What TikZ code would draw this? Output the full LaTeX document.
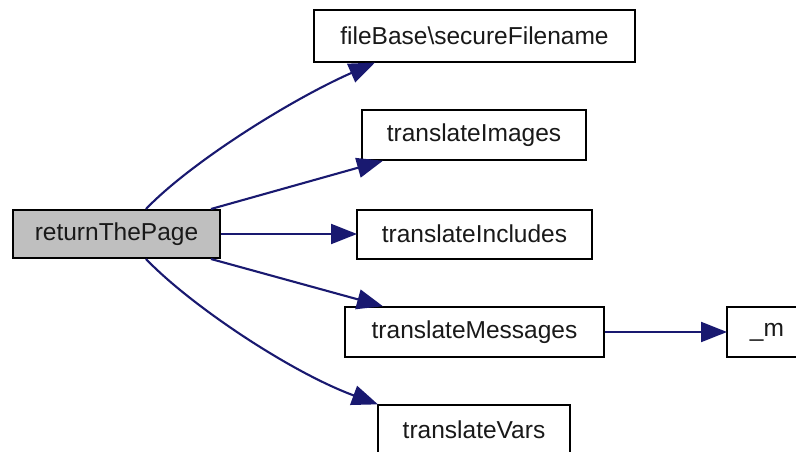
\documentclass[tikz,border=0pt]{standalone}
\usepackage{fontspec}
\setmainfont{Liberation Sans}
\usetikzlibrary{arrows.meta}
\definecolor{edgec}{RGB}{25,25,112}
\definecolor{rootfill}{RGB}{191,191,191}
\tikzset{
  fnbox/.style={draw=black, line width=2pt, fill=white, inner sep=0pt,
    font=\fontsize{24.5}{29}\selectfont, text=black!90},
  callarrow/.style={draw=edgec, line width=2.1pt,
    -{Triangle[length=26pt,width=20pt]}, shorten >=-1pt},
}
\begin{document}
\begin{tikzpicture}[x=1pt,y=-1pt]
\clip (0,0) rectangle (796,452);
\useasboundingbox (0,0) rectangle (796,452);
\fill[white] (0,0) rectangle (796,452);
\node[fnbox, fill=rootfill, minimum width=207pt, minimum height=48pt] (rtp) at (116.5,234) {returnThePage};
\node[fnbox, minimum width=321pt, minimum height=52pt] (fb) at (474.5,36) {fileBase\textbackslash secureFilename};
\node[fnbox, minimum width=224pt, minimum height=50pt] (ti) at (474,135) {translateImages};
\node[fnbox, minimum width=235pt, minimum height=49pt] (tinc) at (474.5,234) {translateIncludes};
\node[fnbox, minimum width=259pt, minimum height=50pt] (tm) at (474.5,332) {translateMessages};
\node[fnbox, minimum width=80pt, minimum height=50pt] (m) at (767,332) {\_m};
\node[fnbox, minimum width=192pt, minimum height=50pt] (tv) at (474,430) {translateVars};
\draw[callarrow] ([xshift=134pt]rtp.north west) .. controls (190,163) and (290,100) .. ([xshift=61pt]fb.south west);
\draw[callarrow] ([xshift=-10pt]rtp.north east) -- ([xshift=21pt]ti.south west);
\draw[callarrow] (rtp.east) -- (tinc.west);
\draw[callarrow] ([xshift=-10pt]rtp.south east) -- ([xshift=38pt]tm.north west);
\draw[callarrow] ([xshift=134pt]rtp.south west) .. controls (190,305) and (290,372) .. ([xshift=0pt]tv.north west);
\draw[callarrow] (tm.east) -- (m.west);
\end{tikzpicture}
\end{document}
